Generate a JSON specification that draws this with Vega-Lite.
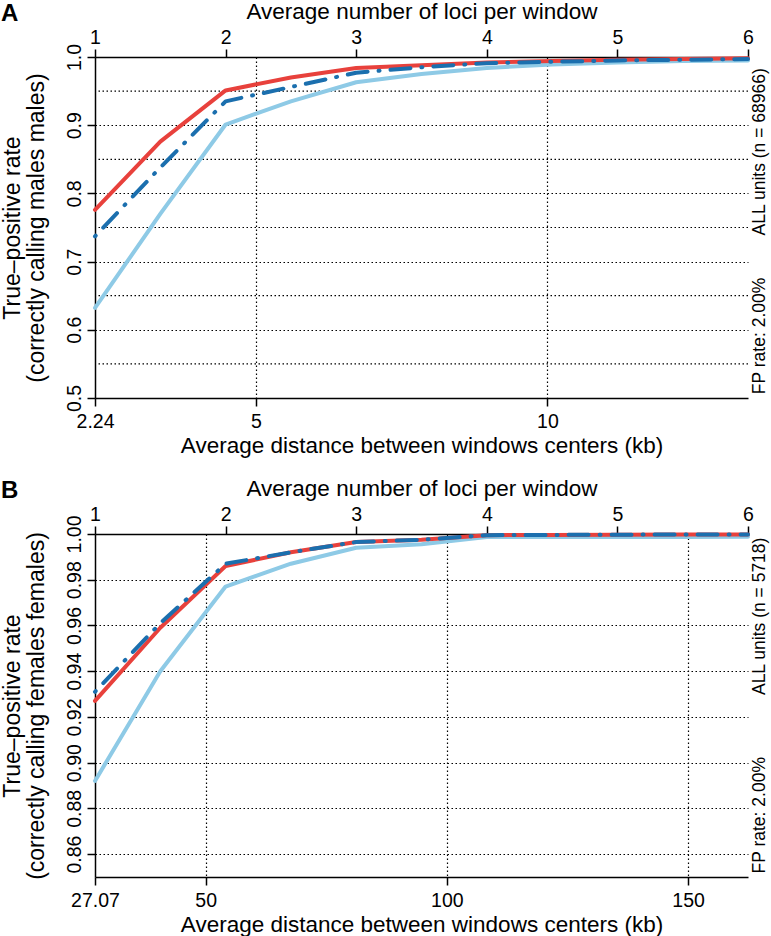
{
  "$schema": "https://vega.github.io/schema/vega-lite/v6.json",
  "padding": {"left": 1, "top": 0, "right": 2, "bottom": 0},
  "config": {
    "font": "Liberation Sans",
    "view": {"stroke": null},
    "axis": {
      "domainColor": "black", "domainWidth": 1.5,
      "tickColor": "black", "tickWidth": 1.5, "tickSize": 8,
      "labelColor": "black", "labelFontSize": 19.5,
      "titleColor": "black", "titleFontSize": 22.5, "titleFontWeight": "normal",
      "gridColor": "black", "gridDash": [1.5, 2.5], "gridWidth": 1.2,
      "labelOverlap": false, "labelFlush": false, "labelBound": false
    }
  },
  "datasets": {
    "A": [
      {"series": "red", "loci": 1, "kb": 2.24, "tpr": 0.776},
      {"series": "red", "loci": 1.5, "kb": 3.36, "tpr": 0.876},
      {"series": "red", "loci": 2, "kb": 4.48, "tpr": 0.951},
      {"series": "red", "loci": 2.5, "kb": 5.6, "tpr": 0.970},
      {"series": "red", "loci": 3, "kb": 6.72, "tpr": 0.984},
      {"series": "red", "loci": 3.5, "kb": 7.84, "tpr": 0.988},
      {"series": "red", "loci": 4, "kb": 8.96, "tpr": 0.992},
      {"series": "red", "loci": 4.5, "kb": 10.08, "tpr": 0.994},
      {"series": "red", "loci": 5, "kb": 11.2, "tpr": 0.996},
      {"series": "red", "loci": 5.5, "kb": 12.32, "tpr": 0.997},
      {"series": "red", "loci": 6, "kb": 13.44, "tpr": 0.998},
      {"series": "dark", "loci": 1, "kb": 2.24, "tpr": 0.737},
      {"series": "dark", "loci": 1.5, "kb": 3.36, "tpr": 0.838},
      {"series": "dark", "loci": 2, "kb": 4.48, "tpr": 0.935},
      {"series": "dark", "loci": 2.5, "kb": 5.6, "tpr": 0.956},
      {"series": "dark", "loci": 3, "kb": 6.72, "tpr": 0.977},
      {"series": "dark", "loci": 3.5, "kb": 7.84, "tpr": 0.985},
      {"series": "dark", "loci": 4, "kb": 8.96, "tpr": 0.991},
      {"series": "dark", "loci": 4.5, "kb": 10.08, "tpr": 0.993},
      {"series": "dark", "loci": 5, "kb": 11.2, "tpr": 0.995},
      {"series": "dark", "loci": 5.5, "kb": 12.32, "tpr": 0.996},
      {"series": "dark", "loci": 6, "kb": 13.44, "tpr": 0.997},
      {"series": "light", "loci": 1, "kb": 2.24, "tpr": 0.632},
      {"series": "light", "loci": 1.5, "kb": 3.36, "tpr": 0.770},
      {"series": "light", "loci": 2, "kb": 4.48, "tpr": 0.901},
      {"series": "light", "loci": 2.5, "kb": 5.6, "tpr": 0.935},
      {"series": "light", "loci": 3, "kb": 6.72, "tpr": 0.963},
      {"series": "light", "loci": 3.5, "kb": 7.84, "tpr": 0.975},
      {"series": "light", "loci": 4, "kb": 8.96, "tpr": 0.984},
      {"series": "light", "loci": 4.5, "kb": 10.08, "tpr": 0.989},
      {"series": "light", "loci": 5, "kb": 11.2, "tpr": 0.992},
      {"series": "light", "loci": 5.5, "kb": 12.32, "tpr": 0.994},
      {"series": "light", "loci": 6, "kb": 13.44, "tpr": 0.995}
    ],
    "B": [
      {"series": "red", "loci": 1, "kb": 27.07, "tpr": 0.927},
      {"series": "red", "loci": 1.5, "kb": 40.605, "tpr": 0.959},
      {"series": "red", "loci": 2, "kb": 54.14, "tpr": 0.986},
      {"series": "red", "loci": 2.5, "kb": 67.675, "tpr": 0.992},
      {"series": "red", "loci": 3, "kb": 81.21, "tpr": 0.9965},
      {"series": "red", "loci": 3.5, "kb": 94.745, "tpr": 0.9975},
      {"series": "red", "loci": 4, "kb": 108.28, "tpr": 0.9995},
      {"series": "red", "loci": 4.5, "kb": 121.815, "tpr": 0.9996},
      {"series": "red", "loci": 5, "kb": 135.35, "tpr": 0.9997},
      {"series": "red", "loci": 5.5, "kb": 148.885, "tpr": 0.9998},
      {"series": "red", "loci": 6, "kb": 162.42, "tpr": 0.9998},
      {"series": "dark", "loci": 1, "kb": 27.07, "tpr": 0.931},
      {"series": "dark", "loci": 1.5, "kb": 40.605, "tpr": 0.961},
      {"series": "dark", "loci": 2, "kb": 54.14, "tpr": 0.987},
      {"series": "dark", "loci": 2.5, "kb": 67.675, "tpr": 0.992},
      {"series": "dark", "loci": 3, "kb": 81.21, "tpr": 0.9965},
      {"series": "dark", "loci": 3.5, "kb": 94.745, "tpr": 0.9975},
      {"series": "dark", "loci": 4, "kb": 108.28, "tpr": 0.9995},
      {"series": "dark", "loci": 4.5, "kb": 121.815, "tpr": 0.9996},
      {"series": "dark", "loci": 5, "kb": 135.35, "tpr": 0.9997},
      {"series": "dark", "loci": 5.5, "kb": 148.885, "tpr": 0.9998},
      {"series": "dark", "loci": 6, "kb": 162.42, "tpr": 0.9998},
      {"series": "light", "loci": 1, "kb": 27.07, "tpr": 0.892},
      {"series": "light", "loci": 1.5, "kb": 40.605, "tpr": 0.940},
      {"series": "light", "loci": 2, "kb": 54.14, "tpr": 0.977},
      {"series": "light", "loci": 2.5, "kb": 67.675, "tpr": 0.987},
      {"series": "light", "loci": 3, "kb": 81.21, "tpr": 0.994},
      {"series": "light", "loci": 3.5, "kb": 94.745, "tpr": 0.9955},
      {"series": "light", "loci": 4, "kb": 108.28, "tpr": 0.9987},
      {"series": "light", "loci": 4.5, "kb": 121.815, "tpr": 0.9987},
      {"series": "light", "loci": 5, "kb": 135.35, "tpr": 0.9987},
      {"series": "light", "loci": 5.5, "kb": 148.885, "tpr": 0.9987},
      {"series": "light", "loci": 6, "kb": 162.42, "tpr": 0.9988}
    ],
    "minorA": [
      {"g": 0.55}, {"g": 0.65}, {"g": 0.75}, {"g": 0.85}, {"g": 0.95}
    ],
    "notesA": [
      {"label": "ALL units (n = 68966)", "loci": 6, "tpr": 0.861},
      {"label": "FP rate: 2.00%", "loci": 6, "tpr": 0.591}
    ],
    "notesB": [
      {"label": "ALL units (n = 5718)", "loci": 6, "tpr": 0.964},
      {"label": "FP rate: 2.00%", "loci": 6, "tpr": 0.877}
    ]
  },
  "spacing": 20,
  "vconcat": [
    {
      "width": 653, "height": 341,
      "title": {"text": "A", "anchor": "start", "frame": "bounds", "fontSize": 24, "fontWeight": "bold", "offset": -26, "color": "black"},
      "resolve": {"scale": {"x": "independent"}, "axis": {"x": "independent"}},
      "layer": [
        {
          "data": {"name": "minorA"},
          "mark": {"type": "rule", "color": "black", "strokeWidth": 1.2, "strokeDash": [1.5, 2.5]},
          "encoding": {
            "y": {"field": "g", "type": "quantitative", "scale": {"domain": [0.5, 1.0], "nice": false, "zero": false}}
          }
        },
        {
          "data": {"name": "A"},
          "transform": [{"filter": "datum.series === 'light'"}],
          "mark": {"type": "line", "color": "#8ecae6", "strokeWidth": 4, "strokeCap": "round", "strokeJoin": "round"},
          "encoding": {
            "x": {"field": "kb", "type": "quantitative", "scale": {"domain": [2.24, 13.44], "nice": false, "zero": false},
              "axis": {"values": [2.24, 5, 10], "labelExpr": "'' + datum.value", "title": "Average distance between windows centers (kb)", "grid": true,
                "gridOpacity": {"condition": {"test": "datum.value < 3", "value": 0}, "value": 1},
                "labelPadding": 6, "titlePadding": 4}},
            "y": {"field": "tpr", "type": "quantitative", "scale": {"domain": [0.5, 1.0], "nice": false, "zero": false},
              "axis": {"values": [0.5, 0.6, 0.7, 0.8, 0.9, 1.0],
                "labelExpr": "format(datum.value, '.1f')",
                "labelAngle": 270, "labelAlign": "center", "labelBaseline": "bottom", "labelPadding": 3,
                "grid": true,
                "gridOpacity": {"condition": {"test": "datum.value < 0.52 || datum.value > 0.98", "value": 0}, "value": 1},
                "title": ["True–positive rate", "(correctly calling males males)"], "titleFontSize": 23, "titleLineHeight": 24, "titlePadding": 16}}
          }
        },
        {
          "data": {"name": "A"},
          "transform": [{"filter": "datum.series === 'red'"}],
          "mark": {"type": "line", "color": "#e8413c", "strokeWidth": 4, "strokeCap": "round", "strokeJoin": "round"},
          "encoding": {
            "x": {"field": "kb", "type": "quantitative", "scale": {"domain": [2.24, 13.44], "nice": false, "zero": false}, "axis": null},
            "y": {"field": "tpr", "type": "quantitative", "scale": {"domain": [0.5, 1.0], "nice": false, "zero": false}}
          }
        },
        {
          "data": {"name": "A"},
          "transform": [{"filter": "datum.series === 'dark'"}],
          "mark": {"type": "line", "color": "#1b6fae", "strokeWidth": 4, "strokeCap": "round", "strokeJoin": "round", "strokeDash": [1, 11, 20, 11]},
          "encoding": {
            "x": {"field": "kb", "type": "quantitative", "scale": {"domain": [2.24, 13.44], "nice": false, "zero": false}, "axis": null},
            "y": {"field": "tpr", "type": "quantitative", "scale": {"domain": [0.5, 1.0], "nice": false, "zero": false}}
          }
        },
        {
          "data": {"name": "A"},
          "mark": {"type": "point", "opacity": 0},
          "encoding": {
            "x": {"field": "loci", "type": "quantitative", "scale": {"domain": [1, 6], "nice": false, "zero": false},
              "axis": {"orient": "top", "values": [1, 2, 3, 4, 5, 6], "format": "d", "title": "Average number of loci per window", "grid": false, "labelPadding": 2, "titlePadding": 4}},
            "y": {"field": "tpr", "type": "quantitative", "scale": {"domain": [0.5, 1.0], "nice": false, "zero": false}}
          }
        },
        {
          "data": {"name": "notesA"},
          "mark": {"type": "text", "angle": 270, "baseline": "top", "align": "center", "dy": 3, "fontSize": 17.5, "color": "black"},
          "encoding": {
            "x": {"field": "loci", "type": "quantitative", "scale": {"domain": [1, 6], "nice": false, "zero": false}, "axis": null},
            "y": {"field": "tpr", "type": "quantitative", "scale": {"domain": [0.5, 1.0], "nice": false, "zero": false}},
            "text": {"field": "label"}
          }
        }
      ]
    },
    {
      "width": 653, "height": 343,
      "title": {"text": "B", "anchor": "start", "frame": "bounds", "fontSize": 24, "fontWeight": "bold", "offset": -26, "color": "black"},
      "resolve": {"scale": {"x": "independent"}, "axis": {"x": "independent"}},
      "layer": [
        {
          "data": {"name": "B"},
          "transform": [{"filter": "datum.series === 'light'"}],
          "mark": {"type": "line", "color": "#8ecae6", "strokeWidth": 4, "strokeCap": "round", "strokeJoin": "round"},
          "encoding": {
            "x": {"field": "kb", "type": "quantitative", "scale": {"domain": [27.07, 162.42], "nice": false, "zero": false},
              "axis": {"values": [27.07, 50, 100, 150], "labelExpr": "'' + datum.value", "title": "Average distance between windows centers (kb)", "grid": true,
                "gridOpacity": {"condition": {"test": "datum.value < 30", "value": 0}, "value": 1},
                "labelPadding": 6, "titlePadding": 4}},
            "y": {"field": "tpr", "type": "quantitative", "scale": {"domain": [0.85, 1.0], "nice": false, "zero": false},
              "axis": {"values": [0.86, 0.88, 0.9, 0.92, 0.94, 0.96, 0.98, 1.0],
                "labelExpr": "format(datum.value, '.2f')",
                "labelAngle": 270, "labelAlign": "center", "labelBaseline": "bottom", "labelPadding": 3,
                "grid": true,
                "gridOpacity": {"condition": {"test": "datum.value > 0.995", "value": 0}, "value": 1},
                "title": ["True–positive rate", "(correctly calling females females)"], "titleFontSize": 23, "titleLineHeight": 24, "titlePadding": 16}}
          }
        },
        {
          "data": {"name": "B"},
          "transform": [{"filter": "datum.series === 'red'"}],
          "mark": {"type": "line", "color": "#e8413c", "strokeWidth": 4, "strokeCap": "round", "strokeJoin": "round"},
          "encoding": {
            "x": {"field": "kb", "type": "quantitative", "scale": {"domain": [27.07, 162.42], "nice": false, "zero": false}, "axis": null},
            "y": {"field": "tpr", "type": "quantitative", "scale": {"domain": [0.85, 1.0], "nice": false, "zero": false}}
          }
        },
        {
          "data": {"name": "B"},
          "transform": [{"filter": "datum.series === 'dark'"}],
          "mark": {"type": "line", "color": "#1b6fae", "strokeWidth": 4, "strokeCap": "round", "strokeJoin": "round", "strokeDash": [1, 11, 20, 11]},
          "encoding": {
            "x": {"field": "kb", "type": "quantitative", "scale": {"domain": [27.07, 162.42], "nice": false, "zero": false}, "axis": null},
            "y": {"field": "tpr", "type": "quantitative", "scale": {"domain": [0.85, 1.0], "nice": false, "zero": false}}
          }
        },
        {
          "data": {"name": "B"},
          "mark": {"type": "point", "opacity": 0},
          "encoding": {
            "x": {"field": "loci", "type": "quantitative", "scale": {"domain": [1, 6], "nice": false, "zero": false},
              "axis": {"orient": "top", "values": [1, 2, 3, 4, 5, 6], "format": "d", "title": "Average number of loci per window", "grid": false, "labelPadding": 2, "titlePadding": 4}},
            "y": {"field": "tpr", "type": "quantitative", "scale": {"domain": [0.85, 1.0], "nice": false, "zero": false}}
          }
        },
        {
          "data": {"name": "notesB"},
          "mark": {"type": "text", "angle": 270, "baseline": "top", "align": "center", "dy": 3, "fontSize": 17.5, "color": "black"},
          "encoding": {
            "x": {"field": "loci", "type": "quantitative", "scale": {"domain": [1, 6], "nice": false, "zero": false}, "axis": null},
            "y": {"field": "tpr", "type": "quantitative", "scale": {"domain": [0.85, 1.0], "nice": false, "zero": false}},
            "text": {"field": "label"}
          }
        }
      ]
    }
  ]
}
